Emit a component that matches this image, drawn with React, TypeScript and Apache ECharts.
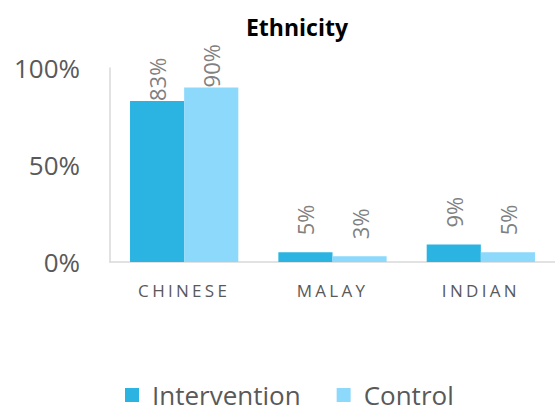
import React, { useEffect, useRef } from "react";
import * as echarts from "echarts";

const categories = ["CHINESE", "MALAY", "INDIAN"];
const intervention = [83, 5, 9];
const control = [90, 3, 5];
const seriesNames = ["Intervention", "Control"];
const colors = ["#2BB4E2", "#8DD9FC"];
const FONT = "'Open Sans', 'Noto Sans', sans-serif";

function withLabelDistance(values: number[]) {
  // tall first-category bars keep their labels right on the bar top
  return values.map((v, i) => (i === 0 ? { value: v, label: { distance: 0 } } : v));
}

// spaced-out capitals for the category axis
function spaceCategoryLabels(root: HTMLElement) {
  root.querySelectorAll("text").forEach((t) => {
    if (categories.includes((t.textContent || "").trim())) {
      (t as SVGTextElement).style.letterSpacing = "3.3px";
    }
  });
}

export default function App() {
  const ref = useRef<HTMLDivElement>(null);

  useEffect(() => {
    if (!ref.current) return;
    const chart = echarts.init(ref.current, undefined, { renderer: "svg" });
    const barLabel = {
      show: true,
      position: "top",
      rotate: 90,
      align: "left",
      verticalAlign: "middle",
      distance: 17,
      formatter: "{c}%",
      color: "#808080",
      fontSize: 22,
      fontFamily: FONT,
    };
    chart.setOption({
      animation: false,
      title: {
        text: "Ethnicity",
        left: 292,
        top: 10,
        textAlign: "center",
        textStyle: { fontSize: 23, fontWeight: "bold", color: "#000", fontFamily: FONT },
      },
      legend: {
        data: seriesNames,
        bottom: 0,
        left: 120,
        itemWidth: 14,
        itemHeight: 14,
        itemGap: 36,
        icon: "rect",
        textStyle: { fontSize: 26, color: "#595959", fontFamily: FONT, padding: [0, 0, 0, 8] },
      },
      grid: { left: 110, right: -3, top: 68, bottom: 151, containLabel: false },
      xAxis: {
        type: "category",
        data: categories,
        axisLine: { show: true, lineStyle: { color: "#d9d9d9", width: 1.5 } },
        axisTick: { show: false },
        axisLabel: { color: "#595959", fontSize: 17, margin: 20, fontFamily: FONT },
      },
      yAxis: {
        type: "value",
        min: 0,
        max: 100,
        interval: 50,
        axisLine: { show: true, lineStyle: { color: "#d9d9d9", width: 1.5 } },
        axisTick: { show: false },
        splitLine: { show: false },
        axisLabel: { formatter: "{value}%", color: "#595959", fontSize: 26, margin: 30, fontFamily: FONT },
      },
      series: [
        {
          name: seriesNames[0],
          type: "bar",
          data: withLabelDistance(intervention),
          itemStyle: { color: colors[0] },
          barGap: "0%",
          barCategoryGap: "27%",
          label: barLabel,
        },
        {
          name: seriesNames[1],
          type: "bar",
          data: withLabelDistance(control),
          itemStyle: { color: colors[1] },
          barGap: "0%",
          barCategoryGap: "27%",
          label: barLabel,
        },
      ],
    });
    spaceCategoryLabels(ref.current);
    return () => chart.dispose();
  }, []);

  return <div ref={ref} style={{ width: 555, height: 413, position: "absolute", left: 0, top: 0 }} />;
}
